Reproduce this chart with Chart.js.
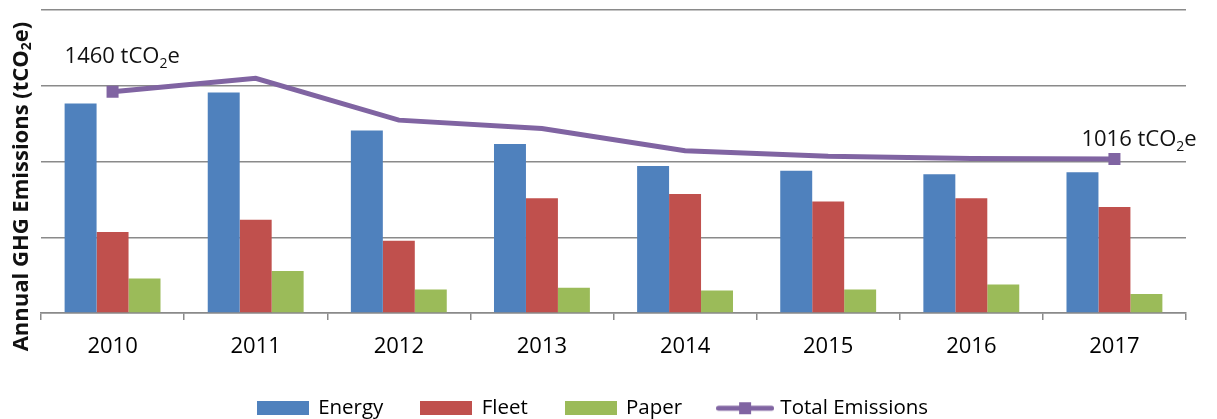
<!DOCTYPE html>
<html>
<head>
<meta charset="utf-8">
<script src="https://cdn.jsdelivr.net/npm/chart.js@4"></script>
<style>
  body { margin: 0; background: #fff; }
  canvas { display: block; }
</style>
</head>
<body>
<canvas id="myChart" width="1217" height="419"></canvas>
<script>
// DADES
const years = ["2010", "2011", "2012", "2013", "2014", "2015", "2016", "2017"];
const energy = [1383, 1455, 1205, 1115, 970, 939, 916, 929];
const fleet = [534, 615, 477, 758, 786, 736, 758, 699];
const paper = [227, 278, 155, 166, 148, 155, 188, 126];
const totalEmissions = [1460, 1549, 1273, 1218, 1071, 1035, 1020, 1016];
const yTicks = [0, 500, 1000, 1500, 2000];
const yTitle = ["Annual GHG Emissions (tCO", "2", "e)"];

const colEnergy = "#4F81BD";
const colFleet = "#C0504D";
const colPaper = "#9BBB59";
const colTotal = "#8064A2";
const gridColor = "#8a8a8a";
const FONT = "'Open Sans', sans-serif";

// marcadors nomes al primer i ultim punt
let markerRadius = totalEmissions.map((v, i) => (i === 0 || i === totalEmissions.length - 1) ? 8.5 : 0);

// icones de la llegenda
function boxIcon(color) {
	const c = document.createElement("canvas");
	c.width = 52; c.height = 14;
	const g = c.getContext("2d");
	g.fillStyle = color;
	g.fillRect(0, 0, 52, 14);
	return c;
}
function lineIcon(color) {
	const c = document.createElement("canvas");
	c.width = 58; c.height = 14;
	const g = c.getContext("2d");
	g.fillStyle = color;
	g.beginPath();
	g.roundRect(0, 4.5, 58, 5, 2.5);
	g.fill();
	g.fillRect(23, 1, 12, 12);
	return c;
}
const legendIcons = [lineIcon(colTotal), boxIcon(colEnergy), boxIcon(colFleet), boxIcon(colPaper)];

// etiquetes amb subindex
function drawSubLabel(ctx, x, y, parts, size, bold) {
	const w = bold ? "bold " : "";
	const subSize = Math.round(size * 0.65);
	ctx.font = w + size + "px " + FONT;
	ctx.fillText(parts[0], x, y);
	x += ctx.measureText(parts[0]).width;
	ctx.font = w + subSize + "px " + FONT;
	ctx.fillText(parts[1], x, y + size * 0.22);
	x += ctx.measureText(parts[1]).width;
	ctx.font = w + size + "px " + FONT;
	ctx.fillText(parts[2], x, y);
}
function subWidth(ctx, parts, size, bold) {
	const w = bold ? "bold " : "";
	ctx.font = w + size + "px " + FONT;
	let t = ctx.measureText(parts[0]).width + ctx.measureText(parts[2]).width;
	ctx.font = w + Math.round(size * 0.65) + "px " + FONT;
	return t + ctx.measureText(parts[1]).width;
}

const extrasPlugin = {
	id: "extras",
	afterDatasetsDraw(chart) {
		const ctx = chart.ctx;
		const meta = chart.getDatasetMeta(0);
		ctx.save();
		ctx.fillStyle = "#111";
		ctx.textBaseline = "alphabetic";
		ctx.textAlign = "left";
		const first = meta.data[0];
		const last = meta.data[meta.data.length - 1];
		drawSubLabel(ctx, first.x - 48, first.y - 29, [totalEmissions[0] + " tCO", "2", "e"], 22, false);
		drawSubLabel(ctx, last.x - 33, last.y - 13, [totalEmissions[totalEmissions.length - 1] + " tCO", "2", "e"], 22, false);
		// titol eix Y
		const cy = (chart.chartArea.top + chart.chartArea.bottom) / 2 + 25;
		ctx.translate(22, cy);
		ctx.rotate(-Math.PI / 2);
		ctx.textBaseline = "middle";
		const tw = subWidth(ctx, yTitle, 22, true);
		drawSubLabel(ctx, -tw / 2, 0, yTitle, 22, true);
		ctx.restore();
	}
};

const config = {
	type: "bar",
	data: {
		labels: years,
		datasets: [
			{
				type: "line",
				label: "Total Emissions",
				data: totalEmissions,
				borderColor: colTotal,
				backgroundColor: colTotal,
				borderWidth: 5,
				pointStyle: "rect",
				pointRadius: markerRadius,
				pointBorderWidth: 0,
				pointBackgroundColor: colTotal,
				tension: 0,
				order: -1
			},
			{ label: "Energy", data: energy, backgroundColor: colEnergy },
			{ label: "Fleet", data: fleet, backgroundColor: colFleet },
			{ label: "Paper", data: paper, backgroundColor: colPaper }
		]
	},
	options: {
		responsive: false,
		animation: false,
		layout: { padding: { top: 10, right: 31, left: 0, bottom: 0 } },
		datasets: { bar: { barPercentage: 1, categoryPercentage: 0.67 } },
		scales: {
			x: {
				grid: { display: true, drawOnChartArea: false, color: gridColor, lineWidth: 1.5, tickLength: 7, offset: true },
				border: { display: true, color: gridColor, width: 1.5 },
				ticks: { color: "#000", font: { family: FONT, size: 22 }, padding: 14 },
				afterFit(scale) { scale.height = 47; }
			},
			y: {
				min: 0,
				max: yTicks[yTicks.length - 1],
				afterBuildTicks(scale) { scale.ticks = yTicks.map(v => ({ value: v })); },
				ticks: { display: false },
				grid: { color: gridColor, lineWidth: 1.5, drawTicks: false },
				border: { display: false },
				afterFit(scale) { scale.width = 41; }
			}
		},
		plugins: {
			tooltip: { enabled: false },
			legend: {
				position: "bottom",
				maxHeight: 59,
				labels: {
					usePointStyle: true,
					pointStyleWidth: 50,
					boxHeight: 14,
					padding: 38,
					color: "#000",
					font: { family: FONT, size: 20.5 },
					sort: (a, b) => ((a.datasetIndex + 3) % 4) - ((b.datasetIndex + 3) % 4),
					generateLabels(chart) {
						const items = Chart.defaults.plugins.legend.labels.generateLabels(chart);
						items.forEach(it => { it.pointStyle = legendIcons[it.datasetIndex]; });
						return items;
					}
				}
			}
		}
	},
	plugins: [extrasPlugin]
};

const ctx = document.getElementById("myChart").getContext("2d");
const myChart = new Chart(ctx, config);
</script>
</body>
</html>
